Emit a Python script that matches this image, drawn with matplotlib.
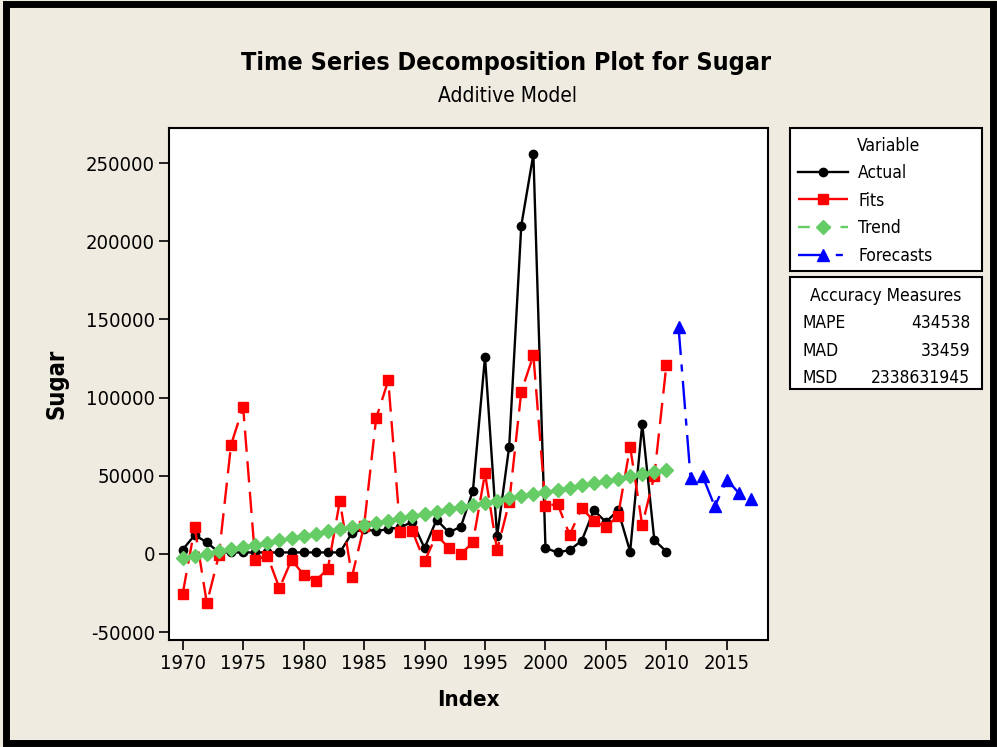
import matplotlib
matplotlib.use('Agg')
import matplotlib.pyplot as plt
from matplotlib.patches import Rectangle

plt.rcParams['font.family'] = ['DejaVu Sans']
plt.rcParams['font.stretch'] = 'condensed'

# Data
years = list(range(1970, 2011))
actual = [2800, 12100, 7400, 1000, 1000, 1000, 1000, 1000, 1000, 1000,
          1000, 1000, 1000, 1000, 13400, 16000, 14500, 16000, 17000, 20600,
          3800, 21900, 13800, 17400, 40400, 126000, 11300, 68700, 210000, 255600,
          3800, 1000, 2500, 8500, 28000, 20400, 28000, 1500, 83200, 8900,
          1500]
fits = [-25500, 17000, -31500, -600, 69800, 94000, -3800, -1000, -21900, -3800,
        -13200, -17000, -9600, 34000, -14500, 18000, 86800, 111000, 13800, 14500,
        -4700, 12300, 3800, 0, 7400, 51500, 2500, 33000, 103800, 127000,
        30900, 31900, 12300, 29400, 21000, 17200, 24500, 68500, 18500, 50000,
        121000]
trend = [-2500, -1100, 300, 1700, 3100, 4500, 5900, 7300, 8800, 10200,
         11600, 13000, 14400, 15800, 17200, 18600, 20000, 21400, 22800, 24200,
         25600, 27000, 28500, 29900, 31300, 32700, 34100, 35500, 36900, 38300,
         39700, 41100, 42500, 43900, 45300, 46700, 48100, 49600, 51000, 52400,
         53800]
fc_years = list(range(2011, 2018))
forecasts = [145300, 48500, 49600, 30400, 47500, 38900, 35100]

x_ticks = [1970, 1975, 1980, 1985, 1990, 1995, 2000, 2005, 2010, 2015]
y_ticks = [-50000, 0, 50000, 100000, 150000, 200000, 250000]

measures = ['MAPE', 'MAD', 'MSD']
measure_vals = ['434538', '33459', '2338631945']

W, H = 997, 747
bg = '#EFEBE1'

fig = plt.figure(figsize=(W / 100, H / 100), dpi=100, facecolor=bg)
ax = fig.add_axes([169 / W, 1 - 640 / H, (768 - 169) / W, (640 - 128) / H])
ax.set_facecolor('white')

l_act, = ax.plot(years, actual, color='black', lw=1.7, marker='o', ms=6,
                 label='Actual')
l_fit, = ax.plot(years, fits, color='red', lw=1.7, dashes=(9, 4), marker='s',
                 ms=6.5, label='Fits')
l_tr, = ax.plot(years, trend, color='#66CC66', lw=1.7, dashes=(5, 4), marker='D',
                ms=7.5, label='Trend')
l_fc, = ax.plot(fc_years, forecasts, color='blue', lw=1.7, dashes=(12, 4, 3, 4),
                marker='^', ms=8, label='Forecasts')

ax.set_xlim(1968.87, 2018.4)
ax.set_ylim(-55000, 272400)
ax.set_xticks(x_ticks)
ax.set_yticks(y_ticks)
ax.set_yticklabels([str(v) for v in y_ticks])
ax.tick_params(axis='both', direction='out', length=7, width=1.2,
               labelsize=14.5, colors='black', pad=3)
for s in ax.spines.values():
    s.set_linewidth(1.5)

ax.set_xlabel('Index', fontsize=16, fontweight='bold', labelpad=12)
ax.set_ylabel('Sugar', fontsize=17, fontweight='bold', labelpad=13)

fig.text(506 / W, 1 - 63 / H, 'Time Series Decomposition Plot for Sugar',
         ha='center', va='center', fontsize=18, fontweight='bold')
fig.text(507 / W, 1 - 96 / H, 'Additive Model', ha='center', va='center',
         fontsize=15)

# legend box
fig.patches.append(Rectangle((790 / W, 1 - 271 / H), 192 / W, 143 / H,
                             transform=fig.transFigure, fc='white', ec='black',
                             lw=1.5))
fig.text(889 / W, 1 - 146 / H, 'Variable', ha='center', va='center',
         fontsize=12.5)
leg = fig.legend(handles=[l_act, l_fit, l_tr, l_fc],
                 loc='upper left', bbox_to_anchor=(798 / W, 1 - 164 / H),
                 frameon=False, fontsize=12.5, borderaxespad=0, borderpad=0,
                 handlelength=2.9, labelspacing=0.55, handletextpad=0.57)

# accuracy measures box
fig.patches.append(Rectangle((790 / W, 1 - 389 / H), 192 / W, 112 / H,
                             transform=fig.transFigure, fc='white', ec='black',
                             lw=1.5))
fig.text(886 / W, 1 - 296 / H, 'Accuracy Measures', ha='center', va='center',
         fontsize=12.5)
for i, (m, v) in enumerate(zip(measures, measure_vals)):
    yy = 1 - (323 + 27.5 * i) / H
    fig.text(802 / W, yy, m, ha='left', va='center', fontsize=12.5)
    fig.text(970 / W, yy, v, ha='right', va='center', fontsize=12.5)

# outer frame
fig.patches.append(Rectangle((6 / W, 4 / H), 987 / W, 739 / H,
                             transform=fig.transFigure, fc='none', ec='black',
                             lw=5))

fig.savefig('out.png', dpi=100, facecolor=bg)
